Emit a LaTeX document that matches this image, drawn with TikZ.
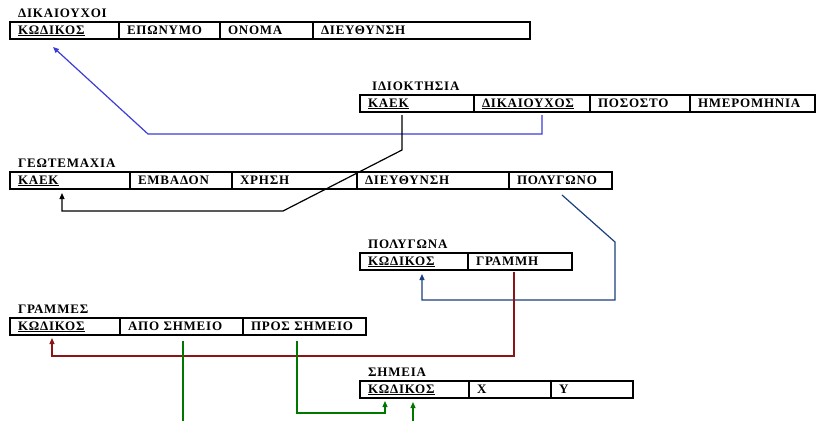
\documentclass[tikz,border=0pt]{standalone}
\usepackage{fontspec}
\setmainfont{Liberation Serif}
\usepackage{tikz}
\usetikzlibrary{positioning}
\usetikzlibrary{arrows.meta}
\definecolor{lnkblue}{RGB}{60,60,215}
\definecolor{lnknavy}{RGB}{25,65,125}
\definecolor{lnkred}{RGB}{140,20,20}
\definecolor{lnkgreen}{RGB}{0,120,0}
\tikzset{%
    tbl/.style={font=\fontsize{13}{13}\selectfont\bfseries\addfontfeature{LetterSpace=6}}
}

\begin{document}
\begin{tikzpicture}[
        x=1pt,y=-1pt,
        node distance=0pt,
        cell/.style={tbl,draw,line width=1.3pt,outer sep=0pt,inner xsep=8pt,inner ysep=0pt,
            minimum height=17pt,text height=10pt,text depth=3pt,
            text width=#1-16pt,align=left,anchor=north west},
        ttl/.style={tbl,inner sep=0pt,anchor=south west},
        lnk/.style={line width=1.2pt,-{Triangle[length=6pt,width=5pt]}},
        lin/.style={line width=1.2pt}
        ]
        \useasboundingbox (0,0) rectangle (817,421);

        % DIKAIOUXOI
        \node[cell=109pt] (dk1) at (10,22) {\underline{ΚΩΔΙΚΟΣ}};
        \node[cell=101pt,right=of dk1] (dk2) {ΕΠΩΝΥΜΟ};
        \node[cell=93pt,right=of dk2] (dk3) {ΟΝΟΜΑ};
        \node[cell=217pt,right=of dk3] (dk4) {ΔΙΕΥΘΥΝΣΗ};
        \node[ttl] (dk) at ([xshift=8pt,yshift=4pt]dk1.north west) {ΔΙΚΑΙΟΥΧΟΙ};

        % IDIOKTHSIA
        \node[cell=114pt] (ik1) at (360,95) {\underline{ΚΑΕΚ}};
        \node[cell=116pt,right=of ik1] (ik2) {\underline{ΔΙΚΑΙΟΥΧΟΣ}};
        \node[cell=100pt,right=of ik2] (ik3) {ΠΟΣΟΣΤΟ};
        \node[cell=125pt,right=of ik3] (ik4) {ΗΜΕΡΟΜΗΝΙΑ};
        \node[ttl] (ik) at ([xshift=12pt,yshift=4pt]ik1.north west) {ΙΔΙΟΚΤΗΣΙΑ};

        % GEOTEMAXIA
        \node[cell=120pt] (ge1) at (10,172) {\underline{ΚΑΕΚ}};
        \node[cell=102pt,right=of ge1] (ge2) {ΕΜΒΑΔΟΝ};
        \node[cell=125pt,right=of ge2] (ge3) {ΧΡΗΣΗ};
        \node[cell=152pt,right=of ge3] (ge4) {ΔΙΕΥΘΥΝΣΗ};
        \node[cell=103pt,right=of ge4] (ge5) {ΠΟΛΥΓΩΝΟ};
        \node[ttl] (ge) at ([xshift=8pt,yshift=4pt]ge1.north west) {ΓΕΩΤΕΜΑΧΙΑ};

        % POLYGWNA
        \node[cell=108pt] (pg1) at (360,253) {\underline{ΚΩΔΙΚΟΣ}};
        \node[cell=104pt,right=of pg1] (pg2) {ΓΡΑΜΜΗ};
        \node[ttl] (pg) at ([xshift=8pt,yshift=4pt]pg1.north west) {ΠΟΛΥΓΩΝΑ};

        % GRAMMES
        \node[cell=110pt] (gr1) at (10,318) {\underline{ΚΩΔΙΚΟΣ}};
        \node[cell=123pt,right=of gr1] (gr2) {ΑΠΟ ΣΗΜΕΙΟ};
        \node[cell=123pt,right=of gr2] (gr3) {ΠΡΟΣ ΣΗΜΕΙΟ};
        \node[ttl] (gr) at ([xshift=8pt,yshift=4pt]gr1.north west) {ΓΡΑΜΜΕΣ};

        % SHMEIA
        \node[cell=109pt] (sm1) at (360,381) {\underline{ΚΩΔΙΚΟΣ}};
        \node[cell=82pt,right=of sm1] (sm2) {Χ};
        \node[cell=82pt,right=of sm2] (sm3) {Υ};
        \node[ttl] (sm) at ([xshift=8pt,yshift=4pt]sm1.north west) {ΣΗΜΕΙΑ};

        \coordinate (gout) at (183,421);
        \coordinate (gin) at (413,421);

        % links
        \draw[lnk,lnkblue] ([xshift=10pt,yshift=-3pt]ik2.south) |- (148,134)
            -- ([xshift=-11.5pt,yshift=-8pt]dk1.south);
        \draw[lnk] ([xshift=-15pt,yshift=-3pt]ik1.south) -- (402,150) -- (283,211)
            -| ([xshift=-8pt,yshift=-4pt]ge1.south);
        \draw[lnk,lnknavy] ([xshift=1.5pt,yshift=-6pt]ge5.south) -- (615,242) |- (422,300)
            -- ([xshift=8pt,yshift=-4pt]pg1.south);
        \draw[lnk,lnkred] ([xshift=-6pt,yshift=-2pt]pg2.south) |- (52,356)
            -- ([xshift=-13pt,yshift=-3pt]gr1.south);
        \draw[lin,lnkgreen] ([xshift=1.5pt,yshift=-6pt]gr2.south) -- (gout);
        \draw[lnk,lnkgreen] ([xshift=-7.5pt,yshift=-6pt]gr3.south) |- (385,413)
            -- ([xshift=-29.5pt,yshift=-3pt]sm1.south);
        \draw[lnk,lnkgreen] (gin) -- ([xshift=-1.5pt,yshift=-4pt]sm1.south);
\end{tikzpicture}
\end{document}
